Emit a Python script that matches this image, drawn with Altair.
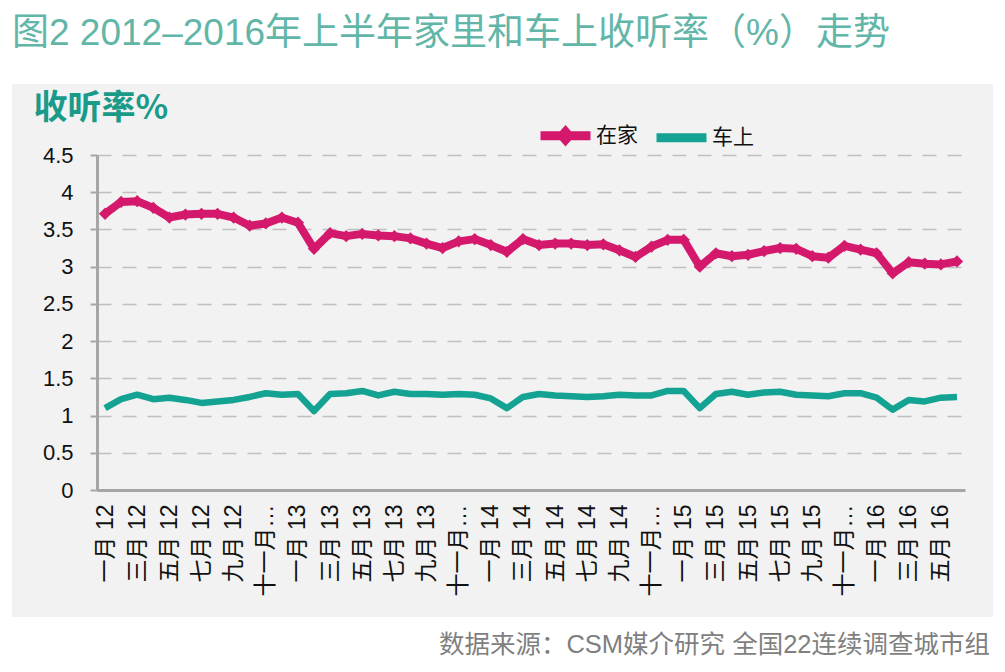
import altair as alt
import pandas as pd

# ---------------- data ----------------
months = ["一月", "二月", "三月", "四月", "五月", "六月",
          "七月", "八月", "九月", "十月", "十一月", "十二月"]
years = ["12", "13", "14", "15", "16"]
month_labels = [f"{m} {y}" for y in years for m in months][:54]

series_names = ["在家", "车上"]

home = [3.71, 3.87, 3.88, 3.79, 3.66, 3.70, 3.71, 3.71, 3.66, 3.55, 3.58, 3.66,
        3.59, 3.24, 3.45, 3.41, 3.44, 3.42, 3.41, 3.38, 3.31, 3.25, 3.34, 3.37,
        3.29, 3.20, 3.37, 3.29, 3.31, 3.31, 3.29, 3.30, 3.22, 3.13, 3.27, 3.36,
        3.36, 3.00, 3.18, 3.14, 3.16, 3.21, 3.25, 3.24, 3.14, 3.12, 3.28, 3.23,
        3.18, 2.91, 3.06, 3.04, 3.03, 3.07]

car = [1.10, 1.22, 1.28, 1.22, 1.24, 1.21, 1.17, 1.19, 1.21, 1.25, 1.30, 1.28,
       1.29, 1.06, 1.29, 1.30, 1.33, 1.27, 1.32, 1.29, 1.29, 1.28, 1.29, 1.28,
       1.23, 1.10, 1.25, 1.29, 1.27, 1.26, 1.25, 1.26, 1.28, 1.27, 1.27, 1.33,
       1.33, 1.10, 1.29, 1.32, 1.28, 1.31, 1.32, 1.28, 1.27, 1.26, 1.30, 1.30,
       1.24, 1.08, 1.21, 1.19, 1.24, 1.25]

y_ticks = [0, 0.5, 1, 1.5, 2, 2.5, 3, 3.5, 4, 4.5]

title_text = "图2 2012–2016年上半年家里和车上收听率（%）走势"
source_text = "数据来源：CSM媒介研究 全国22连续调查城市组"
y_title = "收听率%"

df = pd.DataFrame({
    "month": month_labels * 2,
    "series": [series_names[0]] * len(home) + [series_names[1]] * len(car),
    "value": home + car,
})
one = pd.DataFrame({"a": [0]})

# ---------------- style ----------------
MAGENTA = "#d4196c"
TEAL = "#14a292"
AXIS_GRAY = "#a6a6a6"
PANEL = "#f2f2f2"
FONT = "Liberation Sans, Noto Sans CJK SC, sans-serif"
CJK_FONT = "Noto Sans CJK SC, Liberation Sans, sans-serif"

PATH_HOME = "M-1,0H1M-0.14,0L0,-0.16L0.14,0L0,0.16Z"
PATH_CAR = "M-1,0H1"

x_scale = alt.Scale(type="point", domain=month_labels, padding=0.5)
y_scale = alt.Scale(domain=[0, 4.5], nice=False, zero=True)

x_axis = alt.Axis(values=month_labels[::2], labelAngle=270, labelAlign="right",
                  labelBaseline="middle", labelPadding=14, labelLimit=95,
                  labelFontSize=23, labelFont=FONT, labelColor="#111111",
                  labelOverlap=False, ticks=False, domainColor=AXIS_GRAY,
                  domainWidth=3, grid=False, title=None)
y_axis = alt.Axis(values=y_ticks, format="~g", labelFontSize=22, labelFont=FONT,
                  labelColor="#111111", labelPadding=17, tickSize=7,
                  tickColor=AXIS_GRAY, tickWidth=2, domainColor=AXIS_GRAY,
                  domainWidth=3, grid=True, gridColor="#bfbfbf", gridWidth=1.5,
                  gridDash=[14, 11], title=y_title, titleFont=CJK_FONT,
                  titleFontSize=34, titleFontWeight="bold", titleColor="#1a9a89",
                  titleAngle=0, titleAlign="left", titleBaseline="alphabetic",
                  titleX=-64, titleY=-37)

x_main = alt.X("month:O", scale=x_scale, axis=x_axis)
y_main = alt.Y("value:Q", scale=y_scale, axis=y_axis)

base = alt.Chart(df).encode(x=x_main, y=y_main)

car_line = base.transform_filter(
    alt.datum.series == series_names[1]).mark_line(
    color=TEAL, strokeWidth=6.5, strokeJoin="round")

home_line = base.transform_filter(
    alt.datum.series == series_names[0]).mark_line(
    color=MAGENTA, strokeWidth=8, strokeJoin="round")

home_pts = base.transform_filter(
    alt.datum.series == series_names[0]).mark_point(
    shape="diamond", filled=True, size=150, color=MAGENTA, opacity=1)

leg = alt.Legend(title=None, orient="none", legendX=439, legendY=-49,
                 direction="horizontal", symbolSize=2500, symbolStrokeWidth=9,
                 labelFont=CJK_FONT, labelFontSize=21, labelColor="#111111",
                 labelOffset=1, columnPadding=0, padding=0)

legend_layer = alt.Chart(df).transform_filter("false").mark_point(
    filled=False, opacity=1).encode(
    color=alt.Color("series:N", scale=alt.Scale(domain=series_names,
                                                range=[MAGENTA, TEAL]), legend=leg),
    shape=alt.Shape("series:N", scale=alt.Scale(domain=series_names,
                                                range=[PATH_HOME, PATH_CAR]), legend=leg),
)

# white margins around the grey panel (chart background is the panel colour)
white_top = alt.Chart(one).mark_rect(color="white").encode(
    x=alt.value(-89), x2=alt.value(896), y=alt.value(-147), y2=alt.value(-71))
white_bottom = alt.Chart(one).mark_rect(color="white").encode(
    x=alt.value(-89), x2=alt.value(896), y=alt.value(462), y2=alt.value(503))
white_left = alt.Chart(one).mark_rect(color="white").encode(
    x=alt.value(-89), x2=alt.value(-85), y=alt.value(-147), y2=alt.value(503))

title_layer = alt.Chart(one).mark_text(
    text=title_text, font=FONT, fontSize=37, color="#62b6a8",
    align="left", baseline="alphabetic").encode(x=alt.value(-85), y=alt.value(-110))

source_layer = alt.Chart(one).mark_text(
    text=source_text, font=FONT, fontSize=25.5, color="#7f7f7f",
    align="right", baseline="alphabetic").encode(x=alt.value(893), y=alt.value(498))

chart = alt.layer(car_line, home_line, home_pts, legend_layer,
                  white_top, white_bottom, white_left,
                  title_layer, source_layer).properties(
    width=868, height=335,
    padding={"left": 89, "top": 147, "right": 28, "bottom": 168},
    autosize=alt.AutoSizeParams(type="none"),
    background=PANEL,
).configure_view(stroke=None)

chart.save("out.html", embed_options={"renderer": "svg", "actions": False})
